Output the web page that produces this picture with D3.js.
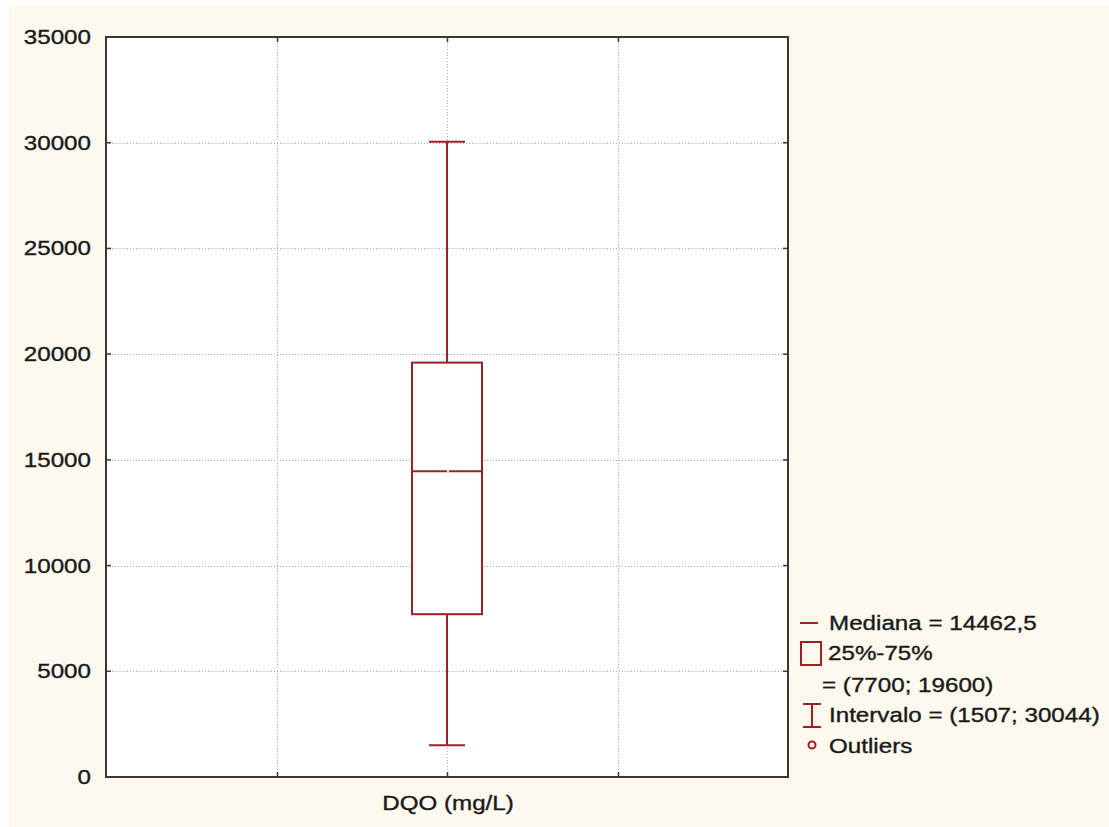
<!DOCTYPE html>
<html>
<head>
<meta charset="utf-8">
<script src="https://cdn.jsdelivr.net/npm/d3@7"></script>
<style>
  html, body { margin: 0; padding: 0; background: #ffffff; }
  svg { display: block; }
  text { font-family: "Liberation Sans", Arial, sans-serif; fill: #1a1a1a; stroke: #1a1a1a; stroke-width: 0.35px; }
</style>
</head>
<body>
<script>
// Box-plot summary for DQO (mg/L)
const categories = ["DQO (mg/L)"];
const boxMin = [1507];
const boxQ1 = [7700];
const boxMedian = [14462.5];
const boxQ3 = [19600];
const boxMax = [30044];
const yTicks = [0, 5000, 10000, 15000, 20000, 25000, 30000, 35000];
const legendLabels = ["Mediana = 14462,5", "25%-75%", "= (7700; 19600)", "Intervalo = (1507; 30044)", "Outliers"];

const W = 1109, H = 827;
const plot = { left: 106, right: 788, top: 37, bottom: 777 };
const red = "#9c2125";
const frameColor = "#383838";
const fontSize = 19.5;
const stretch = 1.24; // wide glyphs

const svg = d3.select("body").append("svg").attr("width", W).attr("height", H);

// page background
svg.append("rect").attr("x", 0).attr("y", 0).attr("width", W).attr("height", H).attr("fill", "#ffffff");
svg.append("rect").attr("x", 9).attr("y", 5).attr("width", W - 9).attr("height", H - 5).attr("fill", "#fef9ef");

// plot background
svg.append("rect")
  .attr("x", plot.left).attr("y", plot.top)
  .attr("width", plot.right - plot.left).attr("height", plot.bottom - plot.top)
  .attr("fill", "#ffffff");

const y = d3.scaleLinear().domain([0, 35000]).range([plot.bottom, plot.top]);
// category sits in the middle; grid lines at quarter positions
const x = d3.scaleLinear().domain([-1, 1]).range([plot.left, plot.right]);
const xGrid = [-0.5, 0, 0.5];
const catPos = categories.map(() => 0);

// stretched text helper
function label(g, txt, px, py, anchor) {
  return g.append("text")
    .attr("transform", `translate(${px},${py}) scale(${stretch},1)`)
    .attr("font-size", fontSize)
    .attr("dy", "0.36em")
    .attr("text-anchor", anchor || "start")
    .text(txt);
}

// grid lines
const grid = svg.append("g").attr("stroke", "#aaaaaa").attr("stroke-width", 1).attr("stroke-dasharray", "1,2");
yTicks.filter(v => v > 0 && v < 35000).forEach(v => {
  grid.append("line").attr("x1", plot.left).attr("x2", plot.right)
    .attr("y1", Math.round(y(v)) + 0.5).attr("y2", Math.round(y(v)) + 0.5);
});
xGrid.forEach(v => {
  grid.append("line").attr("y1", plot.top).attr("y2", plot.bottom)
    .attr("x1", Math.round(x(v)) + 0.5).attr("x2", Math.round(x(v)) + 0.5);
});

// box plot
const boxW = 70, capW = 36;
const bp = svg.append("g").attr("stroke", red).attr("stroke-width", 2).attr("fill", "none");
categories.forEach((c, i) => {
  const cx = Math.round(x(catPos[i]));
  // whiskers
  bp.append("line").attr("x1", cx).attr("x2", cx).attr("y1", y(boxQ3[i])).attr("y2", y(boxMax[i]));
  bp.append("line").attr("x1", cx).attr("x2", cx).attr("y1", y(boxQ1[i])).attr("y2", y(boxMin[i]));
  bp.append("line").attr("x1", cx - capW / 2).attr("x2", cx + capW / 2).attr("y1", y(boxMax[i])).attr("y2", y(boxMax[i]));
  bp.append("line").attr("x1", cx - capW / 2).attr("x2", cx + capW / 2).attr("y1", y(boxMin[i])).attr("y2", y(boxMin[i]));
  // box
  bp.append("rect").attr("x", cx - boxW / 2).attr("y", y(boxQ3[i]))
    .attr("width", boxW).attr("height", y(boxQ1[i]) - y(boxQ3[i])).attr("fill", "#ffffff");
  // median (two halves)
  bp.append("line").attr("x1", cx - boxW / 2).attr("x2", cx).attr("y1", y(boxMedian[i])).attr("y2", y(boxMedian[i]));
  bp.append("line").attr("x1", cx + 2).attr("x2", cx + boxW / 2).attr("y1", y(boxMedian[i])).attr("y2", y(boxMedian[i]));
});

// frame
svg.append("rect")
  .attr("x", plot.left).attr("y", plot.top)
  .attr("width", plot.right - plot.left).attr("height", plot.bottom - plot.top)
  .attr("fill", "none").attr("stroke", frameColor).attr("stroke-width", 2);

// inward ticks on all sides
const ticks = svg.append("g").attr("stroke", frameColor).attr("stroke-width", 1.5);
const tl = 5;
yTicks.forEach(v => {
  const yy = y(v);
  ticks.append("line").attr("x1", plot.left).attr("x2", plot.left + tl).attr("y1", yy).attr("y2", yy);
  ticks.append("line").attr("x1", plot.right).attr("x2", plot.right - tl).attr("y1", yy).attr("y2", yy);
});
xGrid.forEach(v => {
  const xx = Math.round(x(v)) + 0.5;
  ticks.append("line").attr("x1", xx).attr("x2", xx).attr("y1", plot.bottom).attr("y2", plot.bottom - tl);
  ticks.append("line").attr("x1", xx).attr("x2", xx).attr("y1", plot.top).attr("y2", plot.top + tl);
});

// y tick labels
const yl = svg.append("g");
yTicks.forEach(v => label(yl, String(v), 91, y(v), "end"));

// category label
categories.forEach((c, i) => label(svg, c, x(catPos[i]) + 1, 803, "middle"));

// legend
const lg = svg.append("g");
const ls = lg.append("g").attr("stroke", red).attr("stroke-width", 2).attr("fill", "none");
ls.append("line").attr("x1", 800).attr("x2", 818).attr("y1", 623).attr("y2", 623);
ls.append("rect").attr("x", 801).attr("y", 642).attr("width", 20).attr("height", 23);
ls.append("line").attr("x1", 812).attr("x2", 812).attr("y1", 704).attr("y2", 727);
ls.append("line").attr("x1", 803).attr("x2", 821).attr("y1", 704).attr("y2", 704);
ls.append("line").attr("x1", 803).attr("x2", 821).attr("y1", 727).attr("y2", 727);
ls.append("circle").attr("cx", 812).attr("cy", 745).attr("r", 3.5);

label(lg, legendLabels[0], 829, 623);
label(lg, legendLabels[1], 828, 653);
label(lg, legendLabels[2], 822, 685);
label(lg, legendLabels[3], 829, 715);
label(lg, legendLabels[4], 829, 746);
</script>
</body>
</html>
